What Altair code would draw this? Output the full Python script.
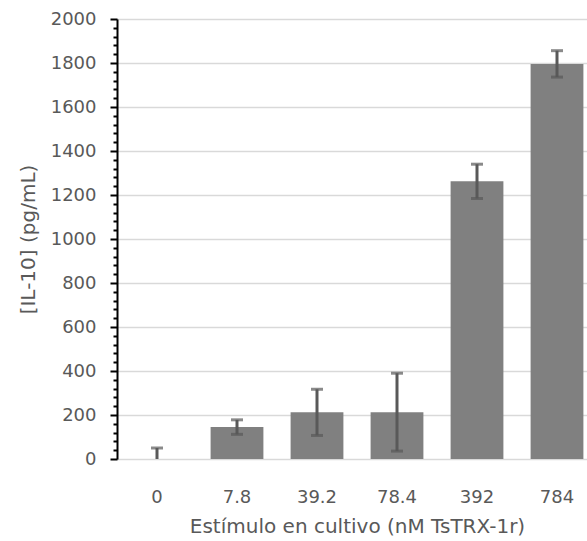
import altair as alt
import pandas as pd

categories = ["0", "7.8", "39.2", "78.4", "392", "784"]
means = [0, 145, 212, 213, 1262, 1796]
errors = [50, 33, 105, 177, 78, 60]

df = pd.DataFrame({"cat": categories, "mean": means, "err": errors})
df["lo"] = (df["mean"] - df["err"]).clip(lower=0)
df["hi"] = df["mean"] + df["err"]

FONT = "DejaVu Sans"
TXT = "#595959"
FS = 18
TFS = 20

x_axis = alt.Axis(
    title="Estímulo en cultivo (nM TsTRX-1r)",
    labelAngle=0,
    domain=False,
    ticks=False,
    labelPadding=29,
    labelFontSize=FS,
    labelColor=TXT,
    labelFont=FONT,
    titleFontSize=TFS,
    titleColor=TXT,
    titleFont=FONT,
    titleFontWeight="normal",
    titlePadding=10,
)
x_scale = alt.Scale(range=[0, 480], paddingInner=0.34, paddingOuter=0.17)

y_axis = alt.Axis(
    title="[IL-10] (pg/mL)",
    values=list(range(0, 2001, 40)),
    tickCount=60,
    format="d",
    labelOverlap=False,
    labelExpr="datum.value % 200 == 0 ? datum.label : ''",
    tickSize={"condition": {"test": "datum.value % 200 == 0", "value": 7}, "value": 4},
    tickColor="black",
    tickWidth=2,
    domainColor="black",
    domainWidth=2,
    grid=True,
    gridColor="#d9d9d9",
    gridWidth=1.5,
    gridOpacity={"condition": {"test": "datum.value % 200 == 0", "value": 1}, "value": 0},
    labelPadding=14,
    labelFontSize=FS,
    labelColor=TXT,
    labelFont=FONT,
    titleFontSize=TFS,
    titleColor=TXT,
    titleFont=FONT,
    titleFontWeight="normal",
    titlePadding=12,
)
y_scale = alt.Scale(domain=[0, 2000], nice=False)


def xe():
    return alt.X("cat:N", sort=categories, scale=x_scale, axis=x_axis)


def ye(field):
    return alt.Y(field, type="quantitative", scale=y_scale, axis=y_axis)


base = alt.Chart(df)

bars = base.mark_bar(color="#808080").encode(x=xe(), y=ye("mean"))

rule = base.mark_rule(color="#595959", strokeWidth=3).encode(
    x=xe(), y=ye("lo"), y2="hi:Q"
)

cap_hi = base.mark_tick(color="#595959", thickness=3, size=12, orient="horizontal").encode(
    x=xe(), y=ye("hi")
)

cap_lo = base.transform_filter("datum.mean > 0").mark_tick(
    color="#595959", thickness=3, size=12, orient="horizontal"
).encode(x=xe(), y=ye("lo"))

chart = (
    alt.layer(bars, rule, cap_hi, cap_lo)
    .properties(
        width=470,
        height=440,
        autosize=alt.AutoSizeParams(type="none"),
        padding={"left": 117, "top": 19, "right": 0, "bottom": 82},
    )
    .configure_view(strokeWidth=0)
    .configure(background="white")
)

chart.save("out.html", embed_options={"renderer": "svg", "actions": False})
